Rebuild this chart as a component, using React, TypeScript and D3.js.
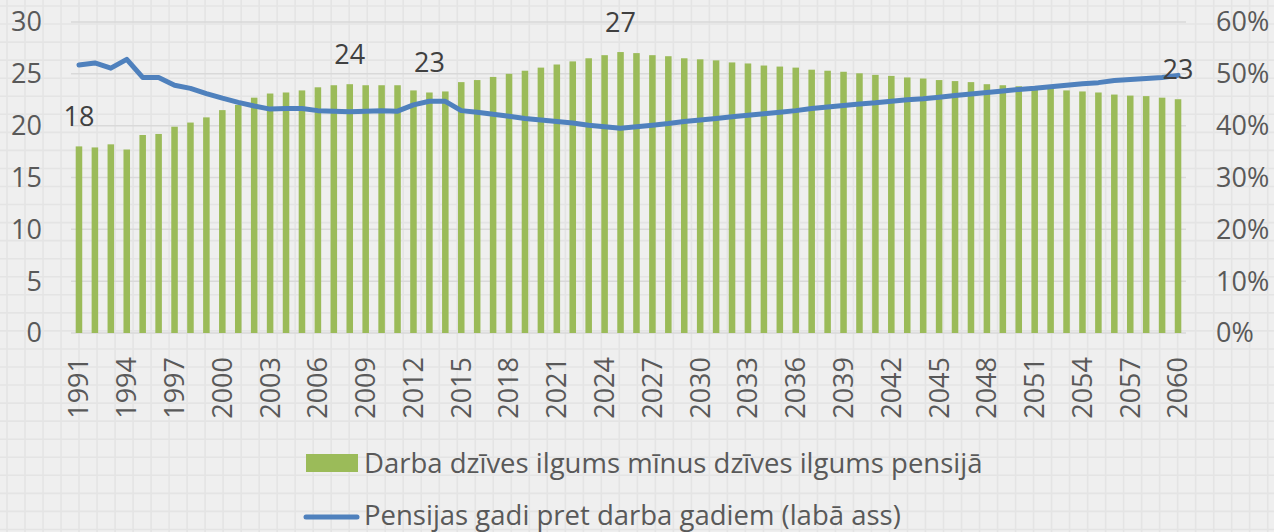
import React from "react";
import * as d3 from "d3";

const years: number[] = d3.range(1991, 2061);

const workMinusPension: number[] = [
  18.0, 17.9, 18.2, 17.7, 19.1, 19.2, 19.9, 20.3, 20.8, 21.5,
  22.0, 22.7, 23.1, 23.2, 23.4, 23.7, 23.9, 24.0, 23.9, 23.9,
  23.9, 23.4, 23.2, 23.3, 24.2, 24.4, 24.7, 25.0, 25.3, 25.6,
  25.9, 26.2, 26.5, 26.8, 27.1, 27.0, 26.8, 26.7, 26.5, 26.4,
  26.3, 26.1, 26.0, 25.8, 25.7, 25.6, 25.4, 25.3, 25.2, 25.05,
  24.9, 24.8, 24.65, 24.55, 24.4, 24.3, 24.2, 24.0, 23.9, 23.8,
  23.7, 23.55, 23.4, 23.3, 23.2, 23.0, 22.9, 22.85, 22.7, 22.55,
];

const pensionRatio: number[] = [
  51.7, 52.1, 51.1, 52.8, 49.3, 49.3, 47.8, 47.2, 46.2, 45.3,
  44.5, 43.8, 43.2, 43.3, 43.3, 42.9, 42.8, 42.7, 42.8, 42.9,
  42.8, 44.0, 44.7, 44.7, 42.9, 42.6, 42.2, 41.8, 41.4, 41.1,
  40.8, 40.5, 40.1, 39.8, 39.5, 39.8, 40.1, 40.4, 40.8, 41.1,
  41.4, 41.7, 42.0, 42.3, 42.6, 42.9, 43.3, 43.6, 43.9, 44.2,
  44.4, 44.7, 45.0, 45.2, 45.5, 45.8, 46.1, 46.4, 46.7, 47.0,
  47.2, 47.5, 47.8, 48.1, 48.3, 48.7, 48.9, 49.1, 49.3, 49.7,
];

const labelledYears: number[] = [1991, 2008, 2013, 2025, 2060];
const leftTicks: number[] = [0, 5, 10, 15, 20, 25, 30];
const rightTicks: number[] = [0, 10, 20, 30, 40, 50, 60];
const xTickYears: number[] = years.filter((y) => (y - 1991) % 3 === 0);

const legendBarLabel = "Darba dzīves ilgums mīnus dzīves ilgums pensijā";
const legendLineLabel = "Pensijas gadi pret darba gadiem (labā ass)";

const W = 1274;
const H = 532;
const FONT = "'Open Sans', 'Noto Sans', sans-serif";

export default function App() {
  const left = 71;
  const right = 1186;
  const top = 22;
  const bottom = 333;

  const x = d3.scaleBand<number>().domain(years).range([left, right]).paddingInner(0.59).paddingOuter(0.295);
  const yL = d3.scaleLinear().domain([0, 30]).range([bottom, top]);
  const yR = d3.scaleLinear().domain([0, 60]).range([bottom, top]);
  const cx = (yr: number) => (x(yr) as number) + x.bandwidth() / 2;

  const line = d3
    .line<number>()
    .x((_, i) => cx(years[i]))
    .y((d) => yR(d));

  const gridV = d3.range(7, W, 18.01);
  const gridH = d3.range(6, H, 18.05);

  return (
    <svg
      width={W}
      height={H}
      style={{ position: "absolute", left: 0, top: 0, display: "block" }}
      fontFamily={FONT}
    >
      <rect x={0} y={0} width={W} height={H} fill="#efefef" />
      <g stroke="#e4e4e4" strokeWidth={1.6}>
        {gridV.map((gx, i) => (
          <line key={"gv" + i} x1={gx} x2={gx} y1={0} y2={H} />
        ))}
        {gridH.map((gy, i) => (
          <line key={"gh" + i} x1={0} x2={W} y1={gy} y2={gy} />
        ))}
      </g>

      {/* horizontal gridlines */}
      <g stroke="#d9d9d9" strokeWidth={1.5}>
        {leftTicks.map((t) => (
          <line key={"g" + t} x1={left} x2={right} y1={yL(t)} y2={yL(t)} />
        ))}
      </g>

      {/* bars */}
      <g fill="#9bbb59">
        {years.map((yr, i) => (
          <rect
            key={yr}
            x={x(yr)}
            y={yL(workMinusPension[i])}
            width={x.bandwidth()}
            height={yL(0) - yL(workMinusPension[i])}
          />
        ))}
      </g>

      {/* line */}
      <path
        d={line(pensionRatio) || ""}
        fill="none"
        stroke="#4f81bd"
        strokeWidth={5}
        strokeLinejoin="round"
        strokeLinecap="round"
      />

      {/* data labels */}
      <g fill="#404040" fontSize={27} textAnchor="middle">
        {labelledYears.map((yr) => {
          const v = workMinusPension[years.indexOf(yr)];
          return (
            <text key={"l" + yr} x={cx(yr)} y={yL(v) - 20}>
              {Math.round(v)}
            </text>
          );
        })}
      </g>

      {/* left axis */}
      <g fill="#595959" fontSize={27} textAnchor="end">
        {leftTicks.map((t) => (
          <text key={"yl" + t} x={42} y={yL(t)} dy="0.35em">
            {t}
          </text>
        ))}
      </g>

      {/* right axis */}
      <g fill="#595959" fontSize={27} textAnchor="start">
        {rightTicks.map((t) => (
          <text key={"yr" + t} x={1216} y={yR(t)} dy="0.35em">
            {t + "%"}
          </text>
        ))}
      </g>

      {/* x axis labels */}
      <g fill="#595959" fontSize={27} textAnchor="end">
        {xTickYears.map((yr) => (
          <text
            key={"x" + yr}
            transform={`translate(${cx(yr)},${357}) rotate(-90)`}
            dy="0.35em"
          >
            {yr}
          </text>
        ))}
      </g>

      {/* legend */}
      <rect x={306} y={454} width={52} height={18} fill="#9bbb59" />
      <text x={364} y={463} dy="0.35em" fontSize={27.5} fill="#595959">
        {legendBarLabel}
      </text>
      <line x1={306} x2={357} y1={517} y2={517} stroke="#4f81bd" strokeWidth={5} strokeLinecap="round" />
      <text x={364} y={524.5} fontSize={27.5} fill="#595959">
        {legendLineLabel}
      </text>
    </svg>
  );
}
